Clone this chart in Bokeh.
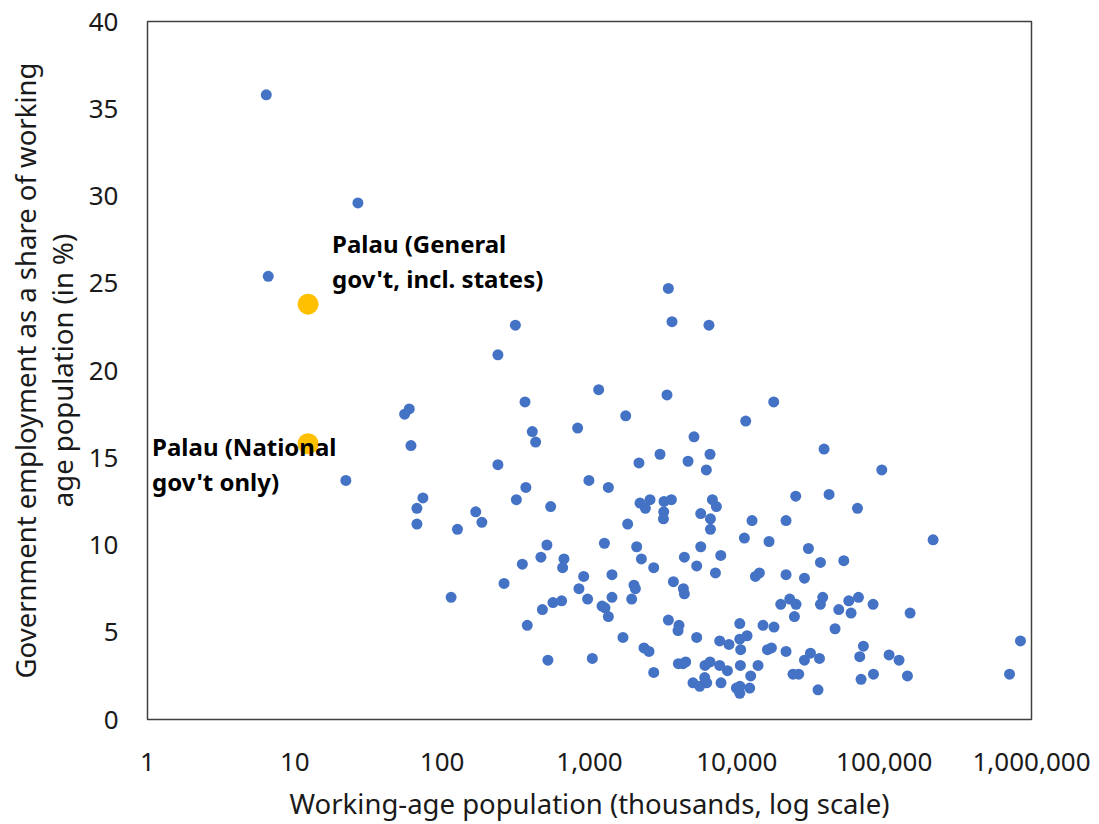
from bokeh.plotting import figure
from bokeh.models import Range1d, FixedTicker, NumeralTickFormatter, ColumnDataSource
from bokeh.core.properties import value
from bokeh.embed import file_html
from bokeh.resources import INLINE

# Working-age population (thousands) and government employment share (%)
pop_thousands = [6.4, 26.8, 6.6, 314, 239, 59.8, 55.6, 365, 409, 431, 61.4, 239, 22.2, 370, 74.0, 319, 67.4, 545, 169, 186,
                 67.4, 127, 514, 468, 350, 263, 115, 565, 479, 378, 522,
                 3430, 3630, 6470, 1154, 3357, 17800, 1761, 11490, 831, 5120, 3010, 6580, 2167, 4665, 6210, 991, 1343,
                 2202, 2575, 2395, 3205, 3595, 3190, 3175, 6825, 7265, 5690, 6620, 6620, 25100, 1816, 12680, 11250, 16540,
                 1262, 2090, 5690, 7780, 4405, 671, 657, 2250, 5340, 2728, 7160, 14230, 13370, 913, 1421, 848, 2004, 2048,
                 3710, 4337, 4405, 971, 1421, 1933, 647, 1216, 1274, 1343, 3430, 4050, 3990, 10470, 15060, 17880, 1687,
                 5340, 7650, 8850, 10470, 11730, 10620, 16140, 17170, 1045, 2343, 2534, 4011, 4498, 4311, 6080, 6580, 7650,
                 8630, 10570, 13930, 2728, 12420, 5040, 5598, 6245, 6053, 7810, 9930, 10470, 10500, 12230,
                 39080, 96350, 42270, 65900, 21580, 214800, 30620, 36940, 53200, 21580, 28770, 19860, 22860, 25230, 38280,
                 36940, 57530, 66920, 49200, 59600, 84100, 150000, 24600, 46420, 72300, 841600, 21580, 31600, 28770, 36380,
                 68270, 108000, 126200, 24060, 26300, 69700, 84600, 143900, 709500, 35560]
gov_share = [35.8, 29.6, 25.4, 22.6, 20.9, 17.8, 17.5, 18.2, 16.5, 15.9, 15.7, 14.6, 13.7, 13.3, 12.7, 12.6, 12.1, 12.2, 11.9, 11.3,
             11.2, 10.9, 10.0, 9.3, 8.9, 7.8, 7.0, 6.7, 6.3, 5.4, 3.4,
             24.7, 22.8, 22.6, 18.9, 18.6, 18.2, 17.4, 17.1, 16.7, 16.2, 15.2, 15.2, 14.7, 14.8, 14.3, 13.7, 13.3,
             12.4, 12.6, 12.1, 12.5, 12.6, 11.9, 11.5, 12.6, 12.2, 11.8, 11.5, 10.9, 12.8, 11.2, 11.4, 10.4, 10.2,
             10.1, 9.9, 9.9, 9.4, 9.3, 9.2, 8.7, 9.2, 8.8, 8.7, 8.4, 8.4, 8.2, 8.2, 8.3, 7.5, 7.7, 7.5,
             7.9, 7.5, 7.2, 6.9, 7.0, 6.9, 6.8, 6.5, 6.4, 5.9, 5.7, 5.4, 5.1, 5.5, 5.4, 5.3, 4.7,
             4.7, 4.5, 4.3, 4.6, 4.8, 4.0, 4.0, 4.1, 3.5, 4.1, 3.9, 3.2, 3.3, 3.2, 3.1, 3.3, 3.1,
             2.8, 3.1, 3.1, 2.7, 2.5, 2.1, 1.9, 2.1, 2.4, 2.1, 1.8, 1.5, 1.9, 1.8,
             15.5, 14.3, 12.9, 12.1, 11.4, 10.3, 9.8, 9.0, 9.1, 8.3, 8.1, 6.6, 6.9, 6.6, 7.0,
             6.6, 6.8, 7.0, 6.3, 6.1, 6.6, 6.1, 5.9, 5.2, 4.2, 4.5, 3.9, 3.8, 3.4, 3.5,
             3.6, 3.7, 3.4, 2.6, 2.6, 2.3, 2.6, 2.5, 2.6, 1.7]

palau_pop = [12.3, 12.3]
palau_share = [23.8, 15.8]
palau_labels = ["Palau (General", "gov't, incl. states)", "Palau (National", "gov't only)"]

x_ticks = [1, 10, 100, 1000, 10000, 100000, 1000000]
y_ticks = [0, 5, 10, 15, 20, 25, 30, 35, 40]

FONT = "Noto Sans"
p = figure(width=1099, height=824, x_axis_type="log", output_backend="svg", toolbar_location=None,
           x_range=Range1d(1, 1000000), y_range=Range1d(0, 40))
p.min_border_left = 147
p.min_border_right = 68
p.min_border_top = 21
p.min_border_bottom = 10
p.background_fill_color = "white"
p.border_fill_color = "white"
p.outline_line_color = "#404040"
p.outline_line_width = 1.5
p.xgrid.visible = False
p.ygrid.visible = False

p.xaxis.ticker = FixedTicker(ticks=x_ticks, minor_ticks=[])
p.xaxis.formatter = NumeralTickFormatter(format="0,0")
p.yaxis.ticker = FixedTicker(ticks=y_ticks, minor_ticks=[])
for ax in (p.xaxis, p.yaxis):
    ax.axis_line_color = None
    ax.major_tick_line_color = None
    ax.minor_tick_line_color = None
    ax.major_tick_out = 0
    ax.major_tick_in = 0
    ax.major_label_text_font = FONT
    ax.major_label_text_font_size = "26px"
    ax.major_label_text_color = "#1a1a1a"
    ax.axis_label_text_font = FONT
    ax.axis_label_text_font_size = "27.5px"
    ax.axis_label_text_font_style = "normal"
    ax.axis_label_text_color = "#1a1a1a"

p.xaxis.axis_label = "Working-age population (thousands, log scale)"
p.yaxis.axis_label = "Government employment as a share of working\nage population (in %)"
p.yaxis.axis_label_text_line_height = 1.0
p.xaxis.major_label_standoff = 33
p.xaxis.axis_label_standoff = 11
p.yaxis.major_label_standoff = 29
p.yaxis.axis_label_standoff = 5

p.scatter(pop_thousands, gov_share, size=11, color="#4472C4", line_color=None)
p.scatter(palau_pop, palau_share, size=21, color="#FFC000", line_color=None)

lab_src = ColumnDataSource(dict(
    x=[palau_pop[0], palau_pop[0], palau_pop[1], palau_pop[1]],
    y=[palau_share[0], palau_share[0], palau_share[1], palau_share[1]],
    text=palau_labels,
    xo=[24, 24, -156, -156],
    yo=[-61, -26, 3, 38],
))
p.text(x="x", y="y", text="text", x_offset="xo", y_offset="yo", source=lab_src,
       text_font=value(FONT), text_font_size="24px", text_font_style="bold",
       text_color="black", text_align="left", text_baseline="alphabetic")

open("out.html", "w").write(file_html(p, INLINE))
